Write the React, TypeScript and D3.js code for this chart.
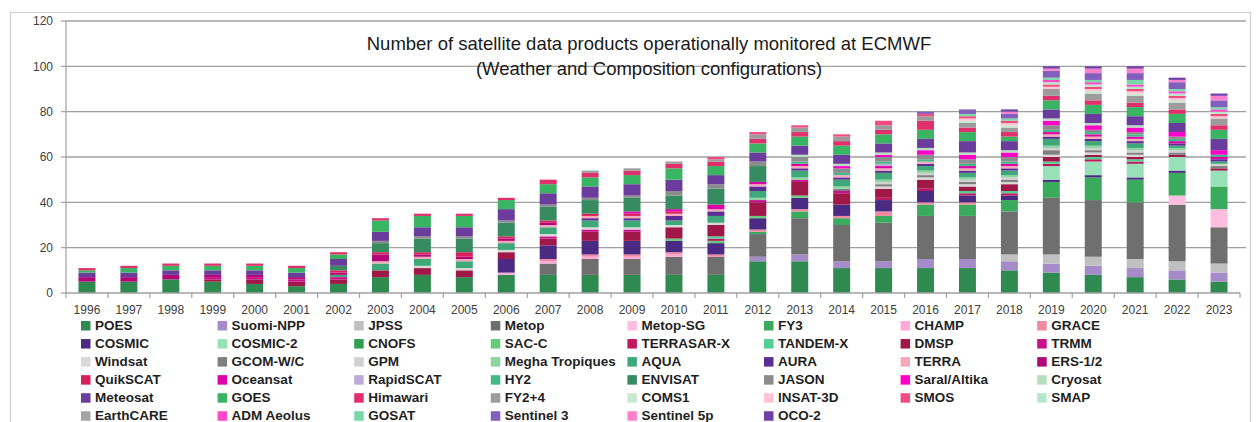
import React from "react";
import * as d3 from "d3";

const years = ["1996","1997","1998","1999","2000","2001","2002","2003","2004","2005","2006","2007","2008","2009","2010","2011","2012","2013","2014","2015","2016","2017","2018","2019","2020","2021","2022","2023"];
const yTicks = [0, 20, 40, 60, 80, 100, 120];
const titleLines = ["Number of satellite data products operationally monitored at ECMWF", "(Weather and Composition configurations)"];

const seriesNames = ["POES","Suomi-NPP","JPSS","Metop","Metop-SG","FY3","CHAMP","GRACE","COSMIC","COSMIC-2","CNOFS","SAC-C","TERRASAR-X","TANDEM-X","DMSP","TRMM","Windsat","GCOM-W/C","GPM","Megha Tropiques","AQUA","AURA","TERRA","ERS-1/2","QuikSCAT","Oceansat","RapidSCAT","HY2","ENVISAT","JASON","Saral/Altika","Cryosat","Meteosat","GOES","Himawari","FY2+4","COMS1","INSAT-3D","SMOS","SMAP","EarthCARE","ADM Aeolus","GOSAT","Sentinel 3","Sentinel 5p","OCO-2"];

const seriesColors = ["#2e8a4f","#a58bc7","#c0c0c0","#6f6f6f","#ffbde0","#3aab5c","#ffa8d8","#f08aa0","#4a2a82","#98e0b8","#30a050","#66cc7a","#c01860","#50d090","#a01848","#c8108c","#d9d9d9","#7f7f7f","#d0d0d0","#8cd4a0","#3ea878","#5c2e94","#f4a8b8","#b00878","#d8205c","#e000a8","#bcaad8","#44b888","#368c60","#8c8c8c","#ff00c8","#b4e0c0","#6a3c9c","#38b462","#e0306c","#9c9c9c","#c8e8d0","#ffc4d4","#f04c80","#b4e8cc","#a4a4a4","#ff48c8","#78d8a8","#8060bc","#ff80cc","#7040a8"];

const vPOES       = [5,5,6,5,4,3,4,7,8,7,8,8,8,8,8,8,14,14,11,11,11,11,10,9,8,7,6,5];
const vSuomiNPP   = [0,0,0,0,0,0,0,0,0,0,0,0,0,0,0,0,2,3,3,3,4,4,4,4,4,4,4,4];
const vJPSS       = [0,0,0,0,0,0,0,0,0,0,0,0,0,0,0,0,0,0,0,0,0,0,3,4,4,4,4,4];
const vMetop      = [0,0,0,0,0,0,0,0,0,0,0,5,7,7,8,8,10,16,16,17,19,19,19,25,25,25,25,16];
const vMetopSG    = [0,0,0,0,0,0,0,0,0,0,0,0,0,0,0,0,0,0,0,0,0,0,0,0,0,0,4,8];
const vFY3        = [0,0,0,0,0,0,0,0,0,0,0,0,0,0,0,0,1,3,3,3,5,5,5,7,10,10,10,10];
const vCHAMP      = [0,0,0,0,0,0,0,0,0,0,1,1,1,1,1,0,0,0,0,0,0,0,0,0,0,0,0,0];
const vGRACE      = [0,0,0,0,0,0,0,0,0,0,0,1,1,1,1,1,1,1,1,2,1,1,0,0,0,0,0,0];
const vCOSMIC     = [0,0,0,0,0,0,0,0,0,0,6,6,6,6,5,5,5,5,5,5,5,3,2,1,1,1,1,0];
const vCOSMIC2    = [0,0,0,0,0,0,0,0,0,0,0,0,0,0,0,0,0,0,0,0,0,0,0,6,6,6,6,7];
const vCNOFS      = [0,0,0,0,0,0,0,0,0,0,0,0,0,0,0,0,0,0,0,0,0,0,0,0,0,0,0,0];
const vSACC       = [0,0,0,0,0,0,0,0,0,0,0,0,0,0,1,1,1,1,0,0,0,0,0,0,0,0,0,0];
const vTERRASARX  = [0,0,0,0,0,0,0,0,0,0,0,0,0,0,0,1,0,0,0,1,1,1,1,1,1,1,0,0];
const vTANDEMX    = [0,0,0,0,0,0,0,0,0,0,0,0,0,0,0,1,0,0,0,0,0,1,1,1,1,1,0,0];
const vDMSP       = [0,0,0,1,2,2,2,3,3,3,3,3,4,4,5,5,6,6,5,4,4,2,3,2,1,1,1,1];
const vTRMM       = [0,0,0,1,1,1,1,0,0,0,0,1,1,1,0,0,1,1,1,0,0,0,0,0,0,0,0,0];
const vWindsat    = [0,0,0,0,0,0,0,0,1,1,1,1,1,1,1,1,0,0,0,1,1,1,1,1,1,1,0,0];
const vGCOM       = [0,0,0,0,0,0,0,0,0,0,0,0,0,0,0,0,0,0,1,1,1,1,1,2,1,1,1,1];
const vGPM        = [0,0,0,0,0,0,0,0,0,0,0,0,0,0,0,0,0,0,0,1,1,1,1,1,1,1,1,1];
const vMegha      = [0,0,0,0,0,0,0,0,0,0,0,0,0,0,0,0,1,1,1,1,1,1,1,1,1,1,1,0];
const vAQUA       = [0,0,0,0,0,0,1,3,3,3,3,3,3,3,2,3,3,3,3,3,2,2,2,3,2,2,1,1];
const vAURA       = [0,0,0,0,0,0,0,0,0,0,0,0,1,1,2,2,2,1,1,1,1,1,1,1,1,1,1,1];
const vTERRA      = [0,0,0,0,0,0,0,1,1,1,1,1,1,1,1,1,1,1,1,1,1,1,1,1,1,1,0,0];
const vERS        = [2,2,2,1,1,1,1,3,1,1,1,1,0,0,0,0,0,0,0,0,0,0,0,0,0,0,0,0];
const vQuikSCAT   = [0,0,0,0,0,0,1,1,1,2,1,1,1,1,1,0,0,0,0,0,0,0,0,0,0,0,0,0];
const vOceansat   = [0,0,0,0,0,0,0,0,0,0,0,0,0,1,1,2,1,1,0,1,0,1,1,1,1,1,1,1];
const vRapidSCAT  = [0,0,0,0,0,0,0,0,0,0,0,0,0,0,0,0,0,0,0,1,0,0,0,0,0,0,0,0];
const vHY2        = [0,0,0,0,0,0,0,0,0,0,0,0,0,0,0,0,0,1,1,1,1,1,1,1,1,1,1,1];
const vENVISAT    = [0,0,0,0,0,0,2,4,6,6,6,6,6,6,6,7,7,0,0,0,0,0,0,0,0,0,0,0];
const vJASON      = [0,0,0,0,0,0,0,1,1,1,1,1,1,1,2,2,2,2,2,2,2,2,2,2,1,1,1,0];
const vSaral      = [0,0,0,0,0,0,0,0,0,0,0,0,0,0,0,0,0,0,1,1,2,2,2,2,2,2,2,2];
const vCryosat    = [0,0,0,0,0,0,0,0,0,0,0,0,0,0,0,0,0,1,1,1,1,1,1,1,1,1,0,0];
const vMeteosat   = [2,2,2,2,2,2,3,4,4,4,5,5,5,5,5,4,4,4,4,4,4,5,4,4,4,4,4,5];
const vGOES       = [1,2,2,2,2,2,2,5,5,5,4,4,4,4,5,4,4,4,4,4,4,4,2,4,4,4,4,4];
const vHimawari   = [1,1,1,1,1,1,1,1,1,1,1,2,2,2,2,2,2,2,2,2,4,2,2,2,2,2,2,2];
const vFY24       = [0,0,0,0,0,0,0,0,0,0,0,0,1,1,1,1,2,2,2,2,2,2,2,3,3,3,3,3];
const vCOMS1      = [0,0,0,0,0,0,0,0,0,0,0,0,0,0,0,0,0,0,0,0,0,1,1,0,1,1,1,0];
const vINSAT3D    = [0,0,0,0,0,0,0,0,0,0,0,0,0,0,0,0,0,0,0,0,0,1,1,1,1,1,1,1];
const vSMOS       = [0,0,0,0,0,0,0,0,0,0,0,0,0,0,0,1,1,1,1,2,1,1,1,1,1,1,1,1];
const vSMAP       = [0,0,0,0,0,0,0,0,0,0,0,0,0,0,0,0,0,0,0,0,0,0,0,1,1,1,1,1];
const vEarthCARE  = [0,0,0,0,0,0,0,0,0,0,0,0,0,0,0,0,0,0,0,0,0,0,0,0,0,0,0,0];
const vADMAeolus  = [0,0,0,0,0,0,0,0,0,0,0,0,0,0,0,0,0,0,0,0,0,0,0,1,1,1,1,1];
const vGOSAT      = [0,0,0,0,0,0,0,0,0,0,0,0,0,0,0,0,0,0,0,0,0,1,1,1,1,2,1,1];
const vSentinel3  = [0,0,0,0,0,0,0,0,0,0,0,0,0,0,0,0,0,0,0,0,1,2,2,3,3,3,3,3];
const vSentinel5p = [0,0,0,0,0,0,0,0,0,0,0,0,0,0,0,0,0,0,0,0,0,0,1,1,2,2,1,2];
const vOCO2       = [0,0,0,0,0,0,0,0,0,0,0,0,0,0,0,0,0,0,0,0,0,0,1,1,1,1,1,1];

const seriesValues = [vPOES,vSuomiNPP,vJPSS,vMetop,vMetopSG,vFY3,vCHAMP,vGRACE,vCOSMIC,vCOSMIC2,vCNOFS,vSACC,vTERRASARX,vTANDEMX,vDMSP,vTRMM,vWindsat,vGCOM,vGPM,vMegha,vAQUA,vAURA,vTERRA,vERS,vQuikSCAT,vOceansat,vRapidSCAT,vHY2,vENVISAT,vJASON,vSaral,vCryosat,vMeteosat,vGOES,vHimawari,vFY24,vCOMS1,vINSAT3D,vSMOS,vSMAP,vEarthCARE,vADMAeolus,vGOSAT,vSentinel3,vSentinel5p,vOCO2];

const W = 1257, H = 422;
const plotL = 66, plotR = 1240, plotT = 21, plotB = 293;
const font = "'Liberation Sans', Arial, sans-serif";

export default function App() {
  const rows = years.map((yr, i) => {
    const r: any = { year: yr };
    seriesNames.forEach((n, k) => { r[n] = seriesValues[k][i]; });
    return r;
  });
  const stacked = d3.stack<any>().keys(seriesNames)(rows);
  const x = d3.scaleBand<string>().domain(years).range([plotL, plotR]).paddingInner(0.595).paddingOuter(0.2975);
  const y = d3.scaleLinear().domain([0, 120]).range([plotB, plotT]);
  const step = x.step();
  const boundaries = d3.range(years.length + 1).map(i => plotL + i * step);

  const colX = (c: number) => 81 + c * 136.6;
  const rowY = (r: number) => 325.5 + r * 18.05;

  return (
    <svg width={W} height={H} style={{ position: "absolute", left: 0, top: 0, background: "#fff" }} xmlns="http://www.w3.org/2000/svg">
      <rect x={0} y={0} width={W} height={H} fill="#fff" />
      <rect x={10.5} y={12.5} width={1240} height={420} fill="none" stroke="#cfcfcf" strokeWidth={1.2} />
      {yTicks.map(t => (
        <g key={t}>
          {t > 0 && <line x1={plotL} x2={plotR + 6} y1={y(t)} y2={y(t)} stroke="#a0a0a0" strokeWidth={1.3} />}
          <line x1={plotL - 5} x2={plotL} y1={y(t)} y2={y(t)} stroke="#a0a0a0" strokeWidth={1.2} />
          <text x={53} y={y(t)} dy="0.35em" textAnchor="end" fontFamily={font} fontSize={12} fill="#404040">{t}</text>
        </g>
      ))}
      <line x1={plotL} x2={plotL} y1={plotT} y2={plotB} stroke="#a0a0a0" strokeWidth={1.2} />
      {stacked.map((s, k) => (
        <g key={seriesNames[k]} fill={seriesColors[k]}>
          {s.map((d, i) => (d[1] - d[0] > 0 ? (
            <rect key={i} x={x(years[i])} y={y(d[1])} width={x.bandwidth()} height={y(d[0]) - y(d[1])} />
          ) : null))}
        </g>
      ))}
      <line x1={plotL} x2={plotR} y1={plotB} y2={plotB} stroke="#a0a0a0" strokeWidth={1.3} />
      {boundaries.map((bx, i) => (
        <line key={i} x1={bx} x2={bx} y1={plotB} y2={plotB + 5} stroke="#a0a0a0" strokeWidth={1.2} />
      ))}
      {years.map(yr => (
        <text key={yr} x={(x(yr) as number) + x.bandwidth() / 2} y={314} textAnchor="middle" fontFamily={font} fontSize={12} fill="#404040">{yr}</text>
      ))}
      <text x={649} y={50} textAnchor="middle" fontFamily={font} fontSize={18.5} fill="#1a1a1a">{titleLines[0]}</text>
      <text x={649} y={75} textAnchor="middle" fontFamily={font} fontSize={18.5} fill="#1a1a1a">{titleLines[1]}</text>
      {seriesNames.map((n, k) => {
        const c = k % 8, r = Math.floor(k / 8);
        return (
          <g key={n}>
            <rect x={colX(c)} y={rowY(r) - 4.5} width={9.5} height={9.5} fill={seriesColors[k]} />
            <text x={colX(c) + 14} y={rowY(r)} dy="0.35em" fontFamily={font} fontSize={13.5} fontWeight="bold" fill="#1f1f1f">{n}</text>
          </g>
        );
      })}
    </svg>
  );
}
